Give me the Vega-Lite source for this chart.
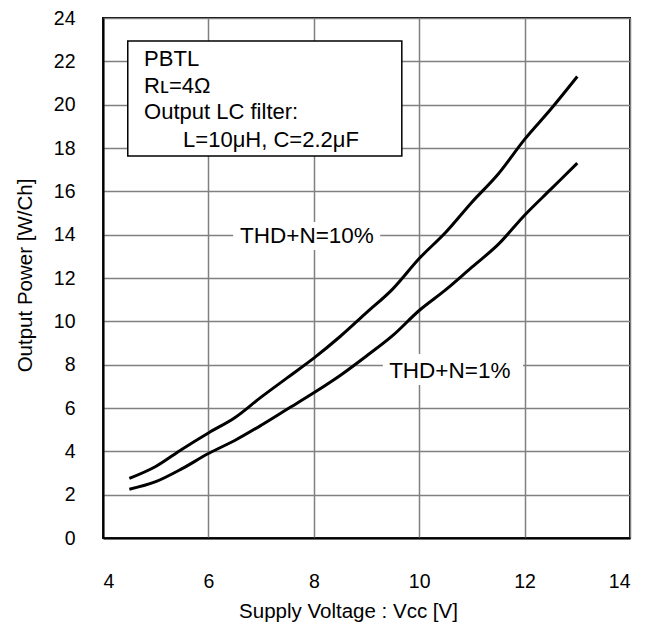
{
  "$schema": "https://vega.github.io/schema/vega-lite/v6.json",
  "width": 527,
  "height": 520,
  "autosize": {"type": "none"},
  "padding": {"left": 103, "top": 18, "right": 26, "bottom": 90},
  "background": "white",
  "config": {
    "font": "Liberation Sans",
    "view": {"stroke": "black", "strokeWidth": 2},
    "axis": {
      "labelFontSize": 19.5,
      "titleFontSize": 20.5,
      "labelColor": "black",
      "titleColor": "black",
      "titleFontWeight": "normal",
      "gridColor": "#808080",
      "gridWidth": 1.5,
      "gridOpacity": 1,
      "domainColor": "black",
      "domainWidth": 2,
      "ticks": false,
      "tickSize": 0
    }
  },
  "datasets": {
    "curves": [
      {"x": 4.5, "y": 2.75, "s": "10%"}, {"x": 5.0, "y": 3.3, "s": "10%"}, {"x": 5.5, "y": 4.1, "s": "10%"},
      {"x": 6.0, "y": 4.85, "s": "10%"}, {"x": 6.5, "y": 5.55, "s": "10%"}, {"x": 7.0, "y": 6.5, "s": "10%"},
      {"x": 7.5, "y": 7.4, "s": "10%"}, {"x": 8.0, "y": 8.3, "s": "10%"}, {"x": 8.5, "y": 9.3, "s": "10%"},
      {"x": 9.0, "y": 10.4, "s": "10%"}, {"x": 9.5, "y": 11.5, "s": "10%"}, {"x": 10.0, "y": 12.9, "s": "10%"},
      {"x": 10.5, "y": 14.1, "s": "10%"}, {"x": 11.0, "y": 15.5, "s": "10%"}, {"x": 11.5, "y": 16.8, "s": "10%"},
      {"x": 12.0, "y": 18.4, "s": "10%"}, {"x": 12.5, "y": 19.8, "s": "10%"}, {"x": 13.0, "y": 21.3, "s": "10%"},
      {"x": 4.5, "y": 2.25, "s": "1%"}, {"x": 5.0, "y": 2.6, "s": "1%"}, {"x": 5.5, "y": 3.2, "s": "1%"},
      {"x": 6.0, "y": 3.9, "s": "1%"}, {"x": 6.5, "y": 4.5, "s": "1%"}, {"x": 7.0, "y": 5.2, "s": "1%"},
      {"x": 7.5, "y": 5.95, "s": "1%"}, {"x": 8.0, "y": 6.7, "s": "1%"}, {"x": 8.5, "y": 7.5, "s": "1%"},
      {"x": 9.0, "y": 8.4, "s": "1%"}, {"x": 9.5, "y": 9.35, "s": "1%"}, {"x": 10.0, "y": 10.5, "s": "1%"},
      {"x": 10.5, "y": 11.45, "s": "1%"}, {"x": 11.0, "y": 12.5, "s": "1%"}, {"x": 11.5, "y": 13.55, "s": "1%"},
      {"x": 12.0, "y": 14.9, "s": "1%"}, {"x": 12.5, "y": 16.1, "s": "1%"}, {"x": 13.0, "y": 17.3, "s": "1%"}
    ],
    "boxes": [
      {"x": 4.47, "x2": 9.67, "y": 22.94, "y2": 17.63, "kind": "legend"},
      {"x": 6.47, "x2": 9.26, "y": 14.58, "y2": 13.29, "kind": "label"},
      {"x": 9.31, "x2": 11.97, "y": 8.49, "y2": 7.06, "kind": "label"}
    ],
    "boxtext": [
      {"x": 4.78, "y": 22.1, "t": "PBTL"},
      {"x": 4.78, "y": 20.86, "t": "Rʟ=4Ω"},
      {"x": 4.78, "y": 19.66, "t": "Output LC filter:"},
      {"x": 5.52, "y": 18.37, "t": "L=10μH, C=2.2μF"}
    ],
    "labels": [
      {"x": 7.87, "y": 13.95, "t": "THD+N=10%"},
      {"x": 10.58, "y": 7.71, "t": "THD+N=1%"}
    ]
  },
  "layer": [
    {
      "data": {"name": "boxes"},
      "transform": [{"filter": "datum.kind === 'label'"}],
      "mark": {"type": "rect", "fill": "white", "stroke": null},
      "encoding": {
        "x": {"field": "x", "type": "quantitative", "title": "Supply Voltage : Vᴄᴄ [V]"},
        "x2": {"field": "x2"},
        "y": {"field": "y", "type": "quantitative", "title": "Output Power [W/Ch]"},
        "y2": {"field": "y2"}
      }
    },
    {
      "data": {"name": "boxes"},
      "transform": [{"filter": "datum.kind === 'legend'"}],
      "mark": {"type": "rect", "fill": "white", "stroke": "black", "strokeWidth": 1.5},
      "encoding": {
        "x": {"field": "x", "type": "quantitative", "title": "Supply Voltage : Vᴄᴄ [V]"},
        "x2": {"field": "x2"},
        "y": {"field": "y", "type": "quantitative", "title": "Output Power [W/Ch]"},
        "y2": {"field": "y2"}
      }
    },
    {
      "data": {"name": "curves"},
      "mark": {"type": "line", "color": "black", "strokeWidth": 3, "interpolate": "monotone"},
      "encoding": {
        "x": {
          "field": "x", "type": "quantitative", "title": "Supply Voltage : Vᴄᴄ [V]",
          "scale": {"domain": [4, 14], "nice": false, "zero": false},
          "axis": {"values": [4, 6, 8, 10, 12, 14], "labelPadding": 34, "titleX": 245, "titleY": 79, "titleBaseline": "alphabetic"}
        },
        "y": {
          "field": "y", "type": "quantitative", "title": "Output Power [W/Ch]",
          "scale": {"domain": [0, 24], "nice": false},
          "axis": {"values": [0, 2, 4, 6, 8, 10, 12, 14, 16, 18, 20, 22, 24], "labelPadding": 28, "titleX": -78, "titleY": 257, "titleBaseline": "middle", "titleAngle": -90}
        },
        "detail": {"field": "s"}
      }
    },
    {
      "data": {"name": "boxtext"},
      "mark": {"type": "text", "align": "left", "baseline": "middle", "fontSize": 22, "color": "black"},
      "encoding": {
        "x": {"field": "x", "type": "quantitative", "title": "Supply Voltage : Vᴄᴄ [V]"},
        "y": {"field": "y", "type": "quantitative", "title": "Output Power [W/Ch]"},
        "text": {"field": "t"}
      }
    },
    {
      "data": {"name": "labels"},
      "mark": {"type": "text", "align": "center", "baseline": "middle", "fontSize": 22.5, "color": "black"},
      "encoding": {
        "x": {"field": "x", "type": "quantitative", "title": "Supply Voltage : Vᴄᴄ [V]"},
        "y": {"field": "y", "type": "quantitative", "title": "Output Power [W/Ch]"},
        "text": {"field": "t"}
      }
    }
  ]
}
